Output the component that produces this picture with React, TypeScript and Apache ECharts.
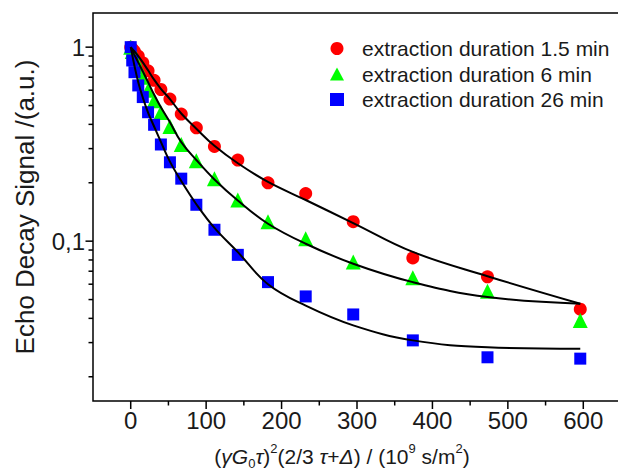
import React, { useEffect, useRef } from "react";
import * as echarts from "echarts";

// ---- data ----
const xs = [0, 2, 5, 10, 16, 23, 31, 40, 52, 67, 87, 111, 142, 182, 232, 295, 374, 473, 596];
const red = [1, 0.98, 0.95, 0.9, 0.83, 0.755, 0.675, 0.605, 0.54, 0.452, 0.384, 0.308, 0.262, 0.2, 0.176, 0.126, 0.082, 0.0655, 0.0446];
const green = [1, 0.95, 0.88, 0.79, 0.7, 0.6, 0.53, 0.46, 0.39, 0.315, 0.26, 0.21, 0.163, 0.126, 0.103, 0.078, 0.0647, 0.0552, 0.039];
const blue = [1, 0.854, 0.743, 0.635, 0.553, 0.462, 0.398, 0.315, 0.255, 0.21, 0.154, 0.1145, 0.085, 0.0615, 0.0519, 0.0419, 0.0308, 0.0252, 0.0248];

const fitX = [0, 5, 10, 16, 23, 31, 40, 52, 67, 87, 111, 142, 182, 232, 295, 374, 473, 596];
const fitRed = [1, 0.95, 0.9, 0.835, 0.76, 0.68, 0.61, 0.54, 0.455, 0.38, 0.31, 0.252, 0.202, 0.163, 0.124, 0.088, 0.066, 0.0476];
const fitGreen = [1, 0.91, 0.835, 0.75, 0.66, 0.57, 0.49, 0.41, 0.324, 0.262, 0.208, 0.162, 0.123, 0.097, 0.0765, 0.0615, 0.0515, 0.0476];
const fitBlue = [1, 0.8, 0.66, 0.55, 0.46, 0.39, 0.325, 0.257, 0.204, 0.155, 0.117, 0.0878, 0.06, 0.0465, 0.0368, 0.0308, 0.0284, 0.0279];

const seriesNames = [
  "extraction duration 1.5 min",
  "extraction duration 6 min",
  "extraction duration 26 min",
];
const legendIcons = ["circle", "triangle", "rect"];

const xMin = -50;
const xMax = 650;
const yMin = 0.015;
const yMax = 1.5;
const xMajorTicks = [0, 100, 200, 300, 400, 500, 600];
const xMinorTicks = [50, 150, 250, 350, 450, 550];
const yMajorTicks = [1, 0.1];
const yMinorTicks = [0.9, 0.8, 0.7, 0.6, 0.5, 0.4, 0.3, 0.2, 0.09, 0.08, 0.07, 0.06, 0.05, 0.04, 0.03, 0.02];

const FONT = "'Liberation Sans', Arial, sans-serif";

function pairs(x: number[], y: number[]) {
  return x.map((v, i) => [v, y[i]]);
}

function tickSeries(data: number[][], vertical: boolean, len: number) {
  return {
    type: "custom",
    silent: true,
    clip: false,
    z: 5,
    data,
    renderItem: (params: any, api: any) => {
      const p = api.coord([api.value(0), api.value(1)]);
      const shape = vertical
        ? { x1: p[0], y1: p[1], x2: p[0], y2: p[1] + len }
        : { x1: p[0], y1: p[1], x2: p[0] - len, y2: p[1] };
      return { type: "line", shape, style: { stroke: "#000", lineWidth: 1.5 } };
    },
  };
}

export default function App() {
  const ref = useRef<HTMLDivElement>(null);
  useEffect(() => {
    if (!ref.current) return;
    const chart = echarts.init(ref.current, undefined, { renderer: "svg" });
    const option: any = {
      animation: false,
      backgroundColor: "#fff",
      grid: {
        left: 93,
        right: 19,
        top: 13,
        bottom: 71,
        show: true,
        borderColor: "#000",
        borderWidth: 1.5,
      },
      legend: {
        orient: "vertical",
        left: 325,
        top: 33,
        itemWidth: 14,
        itemHeight: 13,
        itemGap: 4.5,
        symbolKeepAspect: true,
        data: seriesNames.map((n, i) => ({ name: n, icon: legendIcons[i] })),
        textStyle: {
          fontFamily: FONT,
          fontSize: 21,
          color: "#1a1a1a",
          lineHeight: 21,
          padding: [0, 0, 0, 13],
        },
      },
      xAxis: {
        type: "value",
        min: xMin,
        max: xMax,
        interval: 50,
        axisLine: { show: false },
        axisTick: { show: false },
        splitLine: { show: false },
        axisLabel: {
          margin: 7,
          fontFamily: FONT,
          fontSize: 24,
          color: "#1a1a1a",
          formatter: (v: number) => (v >= 0 && v <= 600 && v % 100 === 0 ? String(v) : ""),
        },
      },
      yAxis: {
        type: "log",
        logBase: 10,
        min: yMin,
        max: yMax,
        axisLine: { show: false },
        axisTick: { show: false },
        splitLine: { show: false },
        minorTick: { show: false },
        axisLabel: {
          margin: 8,
          fontFamily: FONT,
          fontSize: 24,
          color: "#1a1a1a",
          showMinLabel: false,
          showMaxLabel: false,
          formatter: (v: number) =>
            Math.abs(v - 1) < 1e-6 ? "1" : Math.abs(v - 0.1) < 1e-7 ? "0,1" : "",
        },
      },
      series: [
        {
          name: seriesNames[0],
          type: "scatter",
          symbol: "circle",
          symbolSize: 13,
          itemStyle: { color: "#ff0000", opacity: 1 },
          data: pairs(xs, red),
          z: 2,
        },
        {
          name: seriesNames[1],
          type: "scatter",
          symbol: "triangle",
          symbolSize: 15,
          itemStyle: { color: "#00ff00", opacity: 1 },
          data: pairs(xs, green),
          z: 2,
        },
        {
          name: seriesNames[2],
          type: "scatter",
          symbol: "rect",
          symbolSize: 12,
          itemStyle: { color: "#0000ff", opacity: 1 },
          data: pairs(xs, blue),
          z: 2,
        },
        ...[fitRed, fitGreen, fitBlue].map((f) => ({
          type: "line",
          smooth: 0.4,
          showSymbol: false,
          symbol: "none",
          silent: true,
          lineStyle: { color: "#000", width: 2 },
          data: pairs(fitX, f),
          z: 3,
        })),
        tickSeries(xMajorTicks.map((v) => [v, yMin]), true, 8),
        tickSeries(xMinorTicks.map((v) => [v, yMin]), true, 4.5),
        tickSeries(yMajorTicks.map((v) => [xMin, v]), false, 7.5),
        tickSeries(yMinorTicks.map((v) => [xMin, v]), false, 4.5),
      ],
      graphic: [
        {
          type: "text",
          x: 25,
          y: 207,
          rotation: Math.PI / 2,
          style: {
            text: "Echo Decay Signal /(a.u.)",
            fontFamily: FONT,
            fontSize: 26,
            fill: "#1a1a1a",
            align: "center",
            verticalAlign: "middle",
          },
        },
        {
          type: "text",
          x: 342,
          y: 456,
          style: {
            text:
              "{p|(}{i|γG}{sub|0}{i|τ}{p|)}{sup|2}{p|(2/3 }{i|τ}{p|+}{i|Δ}{p|) / (10}{sup|9}{p| s/m}{sup|2}{p|)}",
            align: "center",
            verticalAlign: "middle",
            fill: "#1a1a1a",
            rich: {
              p: { fontFamily: FONT, fontSize: 21, lineHeight: 28, fill: "#1a1a1a" },
              i: { fontFamily: FONT, fontSize: 21, lineHeight: 28, fontStyle: "italic", fill: "#1a1a1a" },
              sub: { fontFamily: FONT, fontSize: 13, lineHeight: 13, verticalAlign: "bottom", fill: "#1a1a1a" },
              sup: { fontFamily: FONT, fontSize: 13, lineHeight: 13, verticalAlign: "top", fill: "#1a1a1a" },
            },
          },
        },
      ],
    };
    chart.setOption(option);
    return () => chart.dispose();
  }, []);
  return (
    <div style={{ position: "fixed", left: 0, top: 0, width: 618, height: 472, overflow: "hidden", background: "#fff" }}>
      <div ref={ref} style={{ width: 640, height: 472 }} />
    </div>
  );
}
